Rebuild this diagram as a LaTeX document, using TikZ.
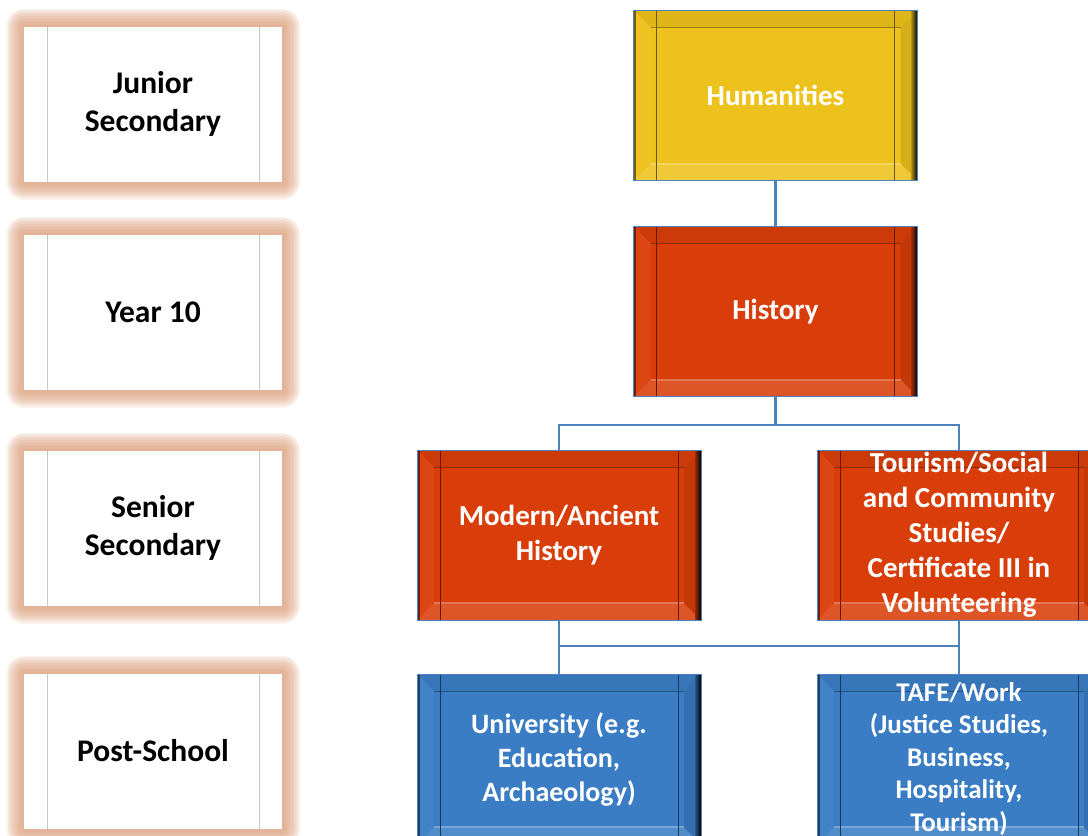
\documentclass[tikz,border=0pt]{standalone}
\usepackage{fontspec}
\setmainfont{Carlito}
\usetikzlibrary{calc}

\definecolor{humyellow}{RGB}{237,194,28}
\definecolor{histred}{RGB}{217,62,10}
\definecolor{postblue}{RGB}{58,125,196}
\definecolor{linkblue}{RGB}{79,129,189}
\definecolor{glowtan}{RGB}{220,160,125}
\definecolor{sidegray}{RGB}{200,200,200}

\tikzset{
  link/.style={linkblue,line width=2.4pt},
  glow/.style={preaction={draw=glowtan,line width=#1,opacity=0.13,line join=round}},
  levelbox/.style={rectangle,fill=white,minimum width=258pt,minimum height=155pt,
    inner sep=0pt,align=center,font=\bfseries\fontsize{31.5}{38}\selectfont,
    glow=36pt,glow=33pt,glow=30pt,glow=27pt,glow=24pt,glow=21pt,
    glow=18pt,glow=15pt,glow=12pt,glow=9pt,glow=6pt,glow=3pt,
    path picture={
      \draw[sidegray,line width=0.8pt] ($(path picture bounding box.north west)+(23pt,0)$) -- ($(path picture bounding box.south west)+(23pt,0)$);
      \draw[sidegray,line width=0.8pt] ($(path picture bounding box.north east)+(-23pt,0)$) -- ($(path picture bounding box.south east)+(-23pt,0)$);
    }},
  boxtext/.style={text=white,align=center,inner sep=0pt,font=\bfseries\fontsize{29}{35}\selectfont},
  bevelbox/.style={rectangle,fill=#1,draw=linkblue,line width=0.8pt,
    minimum width=284pt,minimum height=170pt,inner sep=0pt,
    path picture={
      \path (path picture bounding box.south west) coordinate (bsw)
            (path picture bounding box.north east) coordinate (bne)
            (path picture bounding box.north west) coordinate (bnw)
            (path picture bounding box.south east) coordinate (bse);
      % bevel bands
      \fill[#1!94!black] (bnw) -- (bne) -- ($(bne)+(-17pt,-17pt)$) -- ($(bnw)+(17pt,-17pt)$) -- cycle;
      \fill[#1!88!white] (bsw) -- (bse) -- ($(bse)+(-17pt,17pt)$) -- ($(bsw)+(17pt,17pt)$) -- cycle;
      \fill[#1!96!white] (bsw) -- (bnw) -- ($(bnw)+(17pt,-17pt)$) -- ($(bsw)+(17pt,17pt)$) -- cycle;
      \fill[#1!90!black] (bse) -- (bne) -- ($(bne)+(-17pt,-17pt)$) -- ($(bse)+(-17pt,17pt)$) -- cycle;
      \shade[left color=#1!70!black,right color=black] ($(bne)+(-6pt,0)$) rectangle (bse);
      \fill[black,opacity=0.5] (bnw) rectangle ($(bsw)+(2.5pt,0)$);
      \draw[#1!65!black,line width=1pt] ($(bnw)+(17pt,-17pt)$) -- ($(bne)+(-17pt,-17pt)$);
      \draw[#1!70!white,line width=2pt] ($(bsw)+(17pt,17pt)$) -- ($(bse)+(-17pt,17pt)$);
      % side lines
      \draw[#1!45!black,line width=1pt] ($(bnw)+(23pt,0)$) -- ($(bsw)+(23pt,0)$);
      \draw[#1!45!black,line width=1pt] ($(bne)+(-23pt,0)$) -- ($(bse)+(-23pt,0)$);
    }}
}

\begin{document}
\begin{tikzpicture}[x=1pt,y=-1pt]
\useasboundingbox (0,0) rectangle (1088,836);
\clip (0,0) rectangle (1088,836);

% stages
\foreach \n/\y/\t in {junior/104/{Junior\\Secondary}, year/312/{Year 10},
                      senior/528/{Senior\\Secondary}, post/751/{Post-School}} {
  \node[levelbox] (\n) at (153,\y) {\t};
}

% subjects
\node[bevelbox=humyellow] (hum) at (775.5,95.5) [label={[boxtext]center:Humanities}] {};
\node[bevelbox=histred] (hist) at (775.5,311.5) [label={[boxtext]center:History}] {};
\node[bevelbox=histred] (modern) at (559,535) [label={[boxtext]center:{Modern/Ancient\\History}}] {};
\node[bevelbox=histred] (tourism) at (959,535)
  [label={[boxtext]center:{Tourism/Social\\and Community\\Studies/\\Certificate III in\\Volunteering}}] {};
\node[bevelbox=postblue] (univ) at (559,759)
  [label={[boxtext,font=\bfseries\fontsize{28}{34}\selectfont]center:{University (e.g.\\Education,\\Archaeology)}}] {};
\node[bevelbox=postblue] (tafe) at (959,759)
  [label={[boxtext,font=\bfseries\fontsize{27}{32.5}\selectfont]center:{TAFE/Work\\(Justice Studies,\\Business,\\Hospitality,\\Tourism)}}] {};

% connectors
\coordinate (busa) at (775,425);
\coordinate (busb) at (760,646);
\draw[link] (hum) -- (hist);
\draw[link] (hist.south) -- (hist.south |- busa) -| (modern.north);
\draw[link] (hist.south |- busa) -| (tourism.north);
\draw[link] (modern) -- (univ);
\draw[link] (tourism) -- (tafe);
\draw[link] (modern.south |- busb) -- (tourism.south |- busb);
\end{tikzpicture}
\end{document}
